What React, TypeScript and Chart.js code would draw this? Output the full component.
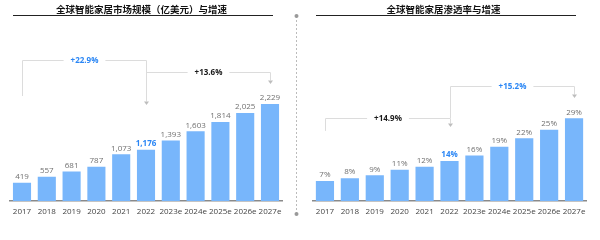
import React, { useEffect, useRef } from "react";
import { Chart, registerables } from "chart.js";
Chart.register(...registerables);

const years = ["2017", "2018", "2019", "2020", "2021", "2022", "2023e", "2024e", "2025e", "2026e", "2027e"];
const marketSize = [419, 557, 681, 787, 1073, 1176, 1393, 1603, 1814, 2025, 2229];
const marketLabels = ["419", "557", "681", "787", "1,073", "1,176", "1,393", "1,603", "1,814", "2,025", "2,229"];
const penetration = [7, 8, 9, 11, 12, 14, 16, 19, 22, 25, 29];
const penetrationLabels = ["7%", "8%", "9%", "11%", "12%", "14%", "16%", "19%", "22%", "25%", "29%"];
const highlightIndex = 5;

const BLUE = "#2a86f5";
const BAR = "#78b6fb";

const marketBrackets = [
  { from: 0, to: 5, level: 3240, fromEnd: 2414, toEnd: 2207, text: "+22.9%", color: BLUE },
  { from: 5, to: 10, level: 2966, fromEnd: null, toEnd: 2690, text: "+13.6%", color: "#1a1a1a" },
];
const penetrationBrackets = [
  { from: 0, to: 5, level: 29.1, fromEnd: 24.6, toEnd: 26, text: "+14.9%", color: "#1a1a1a" },
  { from: 5, to: 10, level: 40.4, fromEnd: 29.1, toEnd: 36.1, text: "+15.2%", color: BLUE },
];

type Bracket = { from: number; to: number; level: number; fromEnd: number | null; toEnd: number; text: string; color: string };

interface Cfg {
  values: number[];
  labels: string[];
  brackets: Bracket[];
  title: string;
  titleX: number;
  ulX1: number;
  ulX2: number;
  max: number;
  padTop: number;
  padLeft: number;
  padRight: number;
  divider: boolean;
}

function makeChart(canvas: HTMLCanvasElement, cfg: Cfg) {
  const overlay = {
    id: "overlay",
    afterDraw(chart: any) {
      const ctx = chart.ctx as CanvasRenderingContext2D;
      const xs = chart.scales.x;
      const ys = chart.scales.y;
      ctx.save();
      // title
      ctx.fillStyle = "#111";
      ctx.font = "bold 9.5px 'Noto Sans CJK SC'";
      ctx.textAlign = "center";
      ctx.textBaseline = "middle";
      ctx.fillText(cfg.title, cfg.titleX, 9);
      ctx.strokeStyle = "#222";
      ctx.lineWidth = 1;
      ctx.beginPath();
      ctx.moveTo(cfg.ulX1, 15.5);
      ctx.lineTo(cfg.ulX2, 15.5);
      ctx.stroke();

      // value labels
      const meta = chart.getDatasetMeta(0);
      meta.data.forEach((bar: any, i: number) => {
        const hl = i === highlightIndex;
        ctx.font = (hl ? "bold " : "") + "8px 'Open Sans'";
        ctx.fillStyle = hl ? BLUE : "#707070";
        ctx.textAlign = "center";
        ctx.textBaseline = "bottom";
        ctx.fillText(cfg.labels[i], bar.x, bar.y - 2);
      });

      // brackets
      const arrow = (x: number, y: number) => {
        ctx.fillStyle = "#bdbdbd";
        ctx.beginPath();
        ctx.moveTo(x - 2.5, y - 3.5);
        ctx.lineTo(x + 2.5, y - 3.5);
        ctx.lineTo(x, y);
        ctx.closePath();
        ctx.fill();
      };
      cfg.brackets.forEach((b) => {
        const x1 = Math.round(xs.getPixelForValue(b.from)) + 0.5;
        const x2 = Math.round(xs.getPixelForValue(b.to)) + 0.5;
        const yl = Math.round(ys.getPixelForValue(b.level)) + 0.5;
        const y2 = ys.getPixelForValue(b.toEnd);
        const cx = (x1 + x2) / 2;
        ctx.font = "bold 8px 'Open Sans'";
        const tw = ctx.measureText(b.text).width;
        const gap = tw / 2 + 7;
        ctx.strokeStyle = "#dcdcdc";
        ctx.lineWidth = 1;
        ctx.beginPath();
        if (b.fromEnd !== null) {
          const y1 = ys.getPixelForValue(b.fromEnd);
          ctx.moveTo(x1, y1);
          ctx.lineTo(x1, yl);
        } else {
          ctx.moveTo(x1, yl);
        }
        ctx.lineTo(cx - gap, yl);
        ctx.moveTo(cx + gap, yl);
        ctx.lineTo(x2, yl);
        ctx.lineTo(x2, y2 - 3.5);
        ctx.stroke();
        arrow(x2, y2);
        ctx.fillStyle = b.color;
        ctx.textAlign = "center";
        ctx.textBaseline = "middle";
        ctx.fillText(b.text, cx, yl + 0.5);
      });

      if (cfg.divider) {
        ctx.strokeStyle = "#bbbbbb";
        ctx.lineWidth = 1;
        ctx.setLineDash([2, 2]);
        ctx.beginPath();
        ctx.moveTo(296.5, 16);
        ctx.lineTo(296.5, 214);
        ctx.stroke();
        ctx.setLineDash([]);
        ctx.fillStyle = "#999";
        [16, 214].forEach((y) => {
          ctx.beginPath();
          ctx.arc(296.5, y, 2, 0, Math.PI * 2);
          ctx.fill();
        });
      }
      ctx.restore();
    },
  };

  return new Chart(canvas, {
    type: "bar",
    data: {
      labels: years,
      datasets: [
        {
          data: cfg.values,
          backgroundColor: BAR,
          borderWidth: 0,
          categoryPercentage: 1,
          barPercentage: 0.73,
        },
      ],
    },
    options: {
      animation: false,
      responsive: false,
      maintainAspectRatio: false,
      devicePixelRatio: 1,
      layout: { padding: { top: cfg.padTop, left: cfg.padLeft, right: cfg.padRight, bottom: 0 } },
      plugins: { legend: { display: false }, tooltip: { enabled: false }, title: { display: false } },
      scales: {
        x: {
          offset: true,
          grid: { display: false, drawTicks: false },
          border: { display: true, color: "#8a8a8a", width: 1.5 },
          ticks: { color: "#444", font: { family: "'Open Sans'", size: 8 }, padding: 6, maxRotation: 0, autoSkip: false },
          afterFit: (s: any) => {
            s.height = 39;
          },
        },
        y: { display: false, min: 0, max: cfg.max },
      },
    },
    plugins: [overlay],
  });
}

export default function App() {
  const leftRef = useRef<HTMLCanvasElement>(null);
  const rightRef = useRef<HTMLCanvasElement>(null);
  useEffect(() => {
    const a = makeChart(leftRef.current!, {
      values: marketSize,
      labels: marketLabels,
      brackets: marketBrackets,
      title: "全球智能家居市场规模（亿美元）与增速",
      titleX: 141.5,
      ulX1: 13,
      ulX2: 273,
      max: 4000,
      padTop: 27,
      padLeft: 9.6,
      padRight: 17.6,
      divider: true,
    });
    const b = makeChart(rightRef.current!, {
      values: penetration,
      labels: penetrationLabels,
      brackets: penetrationBrackets,
      title: "全球智能家居渗透率与增速",
      titleX: 143.5,
      ulX1: 16,
      ulX2: 276,
      max: 60,
      padTop: 30,
      padLeft: 12.5,
      padRight: 13.5,
      divider: false,
    });
    return () => {
      a.destroy();
      b.destroy();
    };
  }, []);
  return (
    <div style={{ position: "fixed", left: 0, top: 0, width: 600, height: 240, background: "#fff" }}>
      <canvas ref={leftRef} width={300} height={240} style={{ position: "absolute", left: 0, top: 0, width: 300, height: 240 }} />
      <canvas ref={rightRef} width={300} height={240} style={{ position: "absolute", left: 300, top: 0, width: 300, height: 240 }} />
    </div>
  );
}
